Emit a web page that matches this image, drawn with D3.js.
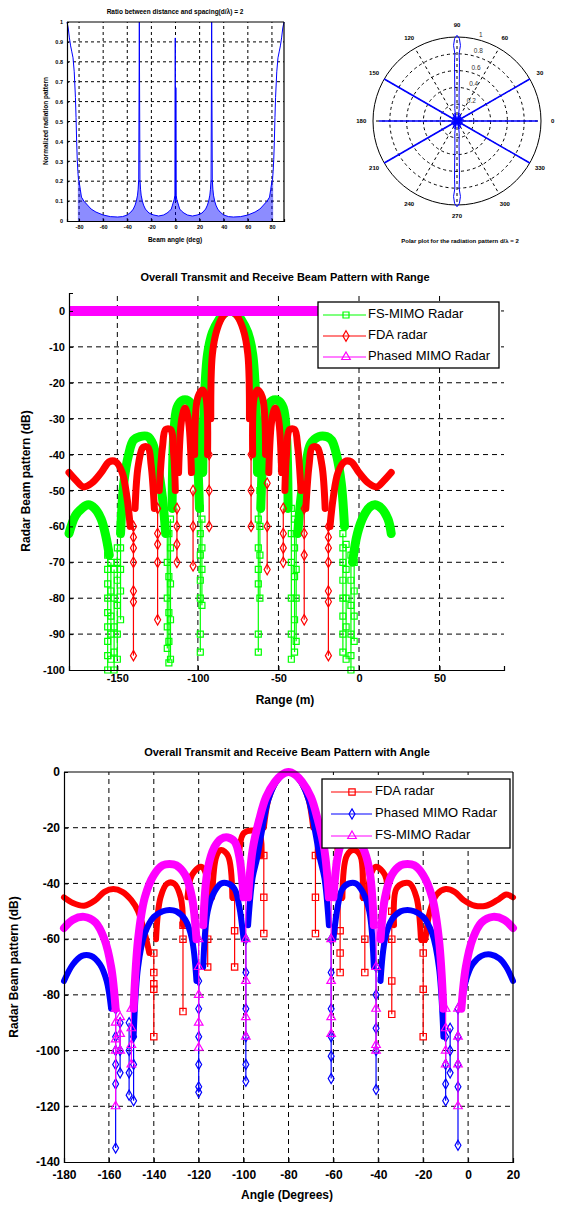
<!DOCTYPE html>
<html><head><meta charset="utf-8">
<script src="https://cdn.jsdelivr.net/npm/d3@7"></script>
<style>body{margin:0;background:#fff}svg{display:block}text{font-family:"Liberation Sans",Arial,sans-serif}</style>
</head><body><svg id="c" width="576" height="1206"></svg>
<script>
// ---------- Panel 1: normalized radiation pattern ----------
const patternAngle = [-90,-89,-88,-87,-86,-85,-84,-83,-82.5,-82,-81.5,-81,-80.5,-80,-79,-78,-76,-73,-70,-66,-60,-54,-48,-44,-40,-37,-35,-33.5,-32.5,-31.5,-31,-30.5,-30,-29.5,-29,-28.5,-27.5,-26.5,-25,-22,-18,-14,-10,-7,-5,-3.5,-2.5,-1.5,-1,-0.5,-0.2,0,0.3,0.6,1,1.5,2.5,3.5,5,7,10,14,18,22,25,26.5,27.5,28.5,29,29.5,30,30.5,31,31.5,32.5,33.5,35,37,40,44,48,54,60,66,70,73,76,78,79,80,80.5,81,81.5,82,82.5,83,84,85,86,87,88,89,90];
const patternLevel = [1.0,0.97,0.92,0.88,0.85,0.82,0.75,0.62,0.52,0.4,0.31,0.25,0.21,0.2,0.16,0.12,0.1,0.08,0.06,0.045,0.03,0.022,0.02,0.022,0.03,0.045,0.06,0.08,0.1,0.13,0.16,0.21,1.0,0.21,0.16,0.13,0.1,0.08,0.06,0.04,0.03,0.025,0.03,0.04,0.05,0.06,0.08,0.1,0.11,0.13,0.92,0.1,0.67,0.13,0.11,0.1,0.08,0.06,0.05,0.04,0.03,0.025,0.03,0.04,0.06,0.08,0.1,0.13,0.16,0.21,1.0,0.21,0.16,0.13,0.1,0.08,0.06,0.045,0.03,0.022,0.02,0.022,0.03,0.045,0.06,0.08,0.1,0.12,0.16,0.2,0.21,0.25,0.31,0.4,0.52,0.62,0.75,0.82,0.85,0.88,0.92,0.97,1.0];
const sidelobeSpan = [-81, 81];
const patternXTicks = [-80,-60,-40,-20,0,20,40,60,80];
const patternYTicks = [0,0.1,0.2,0.3,0.4,0.5,0.6,0.7,0.8,0.9,1];

// ---------- Panel 2: polar plot ----------
const polarSpokeAngle = [0,30,150,180,210,330];
const polarSpokeLevel = [0.96,1.0,1.0,0.93,1.0,1.0];
const polarLobeUp = [[90,0],[70,0.05],[80,0.15],[85.3,0.3],[86.8,0.5],[87.6,0.7],[88.2,0.8],[87.4,0.9],[88.3,0.98],[90,1.02],[91.7,0.98],[92.6,0.9],[91.8,0.8],[92.4,0.7],[93.2,0.5],[94.7,0.3],[100,0.15],[110,0.05],[90,0]];
const polarLobeDown = [[270,0],[250,0.05],[260,0.15],[265.3,0.3],[266.8,0.5],[267.6,0.7],[268.2,0.8],[267.4,0.9],[268.3,0.98],[270,1.02],[271.7,0.98],[272.6,0.9],[271.8,0.8],[272.4,0.7],[273.2,0.5],[274.7,0.3],[280,0.15],[290,0.05],[270,0]];
const polarCoreAngle = [10,20,45,60,75,105,120,135,160,195,225,240,255,285,300,315,345];
const polarCoreLevel = [0.08,0.06,0.07,0.09,0.1,0.1,0.09,0.07,0.06,0.07,0.07,0.09,0.1,0.1,0.09,0.07,0.07];
const polarRings = [0.2,0.4,0.6,0.8];
const polarAngleLabels = [0,30,60,90,120,150,180,210,240,270,300,330];

// ---------- Panel 3: beam pattern vs range ----------
const rangeXTicks = [-150,-100,-50,0,50];
const rangeYTicks = [-100,-90,-80,-70,-60,-50,-40,-30,-20,-10,0];
const fsRangeLobes = [
 [[-180,-62],[-176,-57],[-172,-55],[-168,-54],[-164,-55],[-160,-58],[-157,-63],[-155,-68]],
 [[-148,-62],[-146,-48],[-143,-40],[-140,-36],[-136,-35],[-131,-35],[-128,-37],[-125,-43],[-122,-52],[-120,-62]],
 [[-116,-55],[-115,-35],[-113,-27],[-110,-25],[-106,-25],[-103,-27],[-101,-35],[-99,-55]],
 [[-97,-45],[-96,-25],[-94,-12],[-91,-6],[-87,-2.5],[-84,-0.8],[-80,0],[-76,-0.8],[-73,-2.5],[-69,-6],[-66,-12],[-64,-25],[-63,-45]],
 [[-61,-55],[-59,-35],[-57,-27],[-54,-25],[-50,-25],[-47,-27],[-45,-35],[-44,-55]],
 [[-38,-62],[-36,-52],[-33,-43],[-30,-37],[-25,-35],[-20,-35],[-17,-36],[-14,-40],[-11,-48],[-9,-60]],
 [[-4,-70],[-1,-62],[3,-57],[7,-54.5],[10,-54],[14,-55],[18,-58],[20,-62]]
];
const fsRangeNulls = [
 [-156,[-68,-72,-76,-80,-84,-88,-92,-96,-100]],
 [-154,[-70,-78,-85,-90,-97]],
 [-152,[-72,-80,-88,-95,-100]],
 [-150,[-66,-70,-75,-82,-90,-97]],
 [-148,[-62,-66,-72,-78,-86]],
 [-119,[-62,-70,-80,-88,-94]],
 [-118,[-62,-74,-84,-92,-98]],
 [-117,[-58,-66,-76,-86,-97]],
 [-98.5,[-55,-62,-68,-75,-80,-90,-95]],
 [-97.5,[-58,-66,-72,-82]],
 [-62.5,[-45,-58,-66,-72,-76,-90,-95]],
 [-61.5,[-50,-60,-68,-80]],
 [-42,[-55,-62,-70,-80,-90,-97]],
 [-40,[-58,-66,-74,-86,-95]],
 [-39,[-62,-72,-80,-92]],
 [-10,[-62,-66,-70,-75,-80,-85,-90,-95]],
 [-8,[-65,-72,-80,-88,-97]],
 [-5,[-68,-75,-82,-90,-96,-100]],
 [-3,[-70,-78,-85,-92]]
];
const fdaRangeLobes = [
 [[-180,-45],[-176,-47],[-171,-49],[-166,-48],[-160,-45],[-155,-42],[-151,-42],[-147,-45],[-144,-52],[-142,-60]],
 [[-139,-55],[-137,-43],[-134,-38],[-131,-38],[-129,-43],[-127,-55]],
 [[-124,-50],[-122,-38],[-120,-33],[-117,-33],[-115,-40],[-114,-50]],
 [[-112,-45],[-110,-30],[-108,-27],[-106,-30],[-104,-45]],
 [[-102,-40],[-100,-24],[-97,-22],[-95,-24],[-94,-40]],
 [[-92,-30],[-91,-12],[-88,-5],[-84,-1.2],[-80,0],[-76,-1.2],[-72,-5],[-69,-12],[-68,-30]],
 [[-66,-40],[-65,-24],[-63,-22],[-60,-24],[-58,-40]],
 [[-56,-45],[-54,-30],[-52,-27],[-50,-30],[-48,-45]],
 [[-46,-50],[-45,-40],[-43,-33],[-40,-33],[-38,-38],[-36,-50]],
 [[-33,-55],[-31,-43],[-29,-38],[-26,-38],[-23,-43],[-21,-55]],
 [[-18,-60],[-16,-52],[-13,-45],[-9,-42],[-5,-42],[0,-45],[6,-48],[11,-49],[16,-47],[20,-45]]
];
const fdaRangeNulls = [
 [-140,[-60,-63,-66,-70,-78,-81,-96]],
 [-125,[-55,-62,-65,-70,-86]],
 [-113,[-55,-60,-65,-70]],
 [-103,[-50,-60,-71]],
 [-93,[-40,-50,-60]],
 [-67,[-40,-50,-60]],
 [-57,[-48,-60,-72]],
 [-47,[-55,-62,-66,-70]],
 [-34,[-55,-62,-68,-86]],
 [-19,[-60,-63,-66,-70,-78,-81,-96]]
];
const phasedRangeLine = [[-180,0],[-100,0],[-50,0],[0,0],[20,0]];

// ---------- Panel 4: beam pattern vs angle ----------
const angleXTicks = [-180,-160,-140,-120,-100,-80,-60,-40,-20,0,20];
const angleYTicks = [-140,-120,-100,-80,-60,-40,-20,0];
const fdaAngleLobes = [
 [[-180,-45],[-176,-47],[-171,-48],[-166,-46],[-162,-43],[-158,-42],[-154,-43],[-150,-46],[-147,-50],[-144,-58],[-142,-65]],
 [[-139,-60],[-137,-45],[-134,-40],[-131,-40],[-128,-45],[-127,-55]],
 [[-125,-45],[-123,-37],[-119,-34],[-117,-36],[-116,-45]],
 [[-114,-45],[-112,-30],[-110,-28],[-107,-30],[-105,-45]],
 [[-102,-30],[-100,-22],[-96,-21],[-93,-22],[-92,-30]],
 [[-91,-20],[-89,-10],[-86,-4],[-83,-1],[-80,0],[-77,-1],[-74,-4],[-71,-10],[-69,-20]],
 [[-67,-30],[-66,-22],[-64,-21],[-60,-22],[-58,-30]],
 [[-56,-45],[-54,-30],[-51,-28],[-48,-30],[-47,-45]],
 [[-45,-45],[-43,-36],[-41,-34],[-37,-37],[-36,-45]],
 [[-33,-55],[-32,-42],[-29,-40],[-26,-40],[-23,-45],[-21,-60]],
 [[-19,-60],[-17,-50],[-14,-44],[-10,-42],[-6,-43],[-2,-46],[3,-48],[8,-48],[13,-46],[17,-44],[20,-45]]
];
const fdaAngleNulls = [
 [-140,[-65,-72,-76,-78,-95]],
 [-127,[-55,-60,-86]],
 [-116,[-45,-60,-70]],
 [-104,[-45,-57,-70]],
 [-91,[-30,-45,-58]],
 [-68,[-30,-45,-58]],
 [-57,[-45,-57,-65,-72]],
 [-46,[-45,-60,-72]],
 [-34,[-50,-60,-75,-87]],
 [-20,[-60,-65,-78,-95]]
];
const phasedAngleLobes = [
 [[-180,-75],[-176,-69],[-172,-66],[-168,-66],[-164,-69],[-161,-75],[-159,-85]],
 [[-149,-95],[-147,-70],[-144,-58],[-140,-52],[-136,-50],[-133,-49.5],[-130,-50],[-126,-53],[-123,-60],[-121,-75]],
 [[-118,-70],[-116,-50],[-113,-43],[-110,-40],[-107,-40],[-104,-42],[-102,-48],[-100,-60]],
 [[-98,-55],[-96,-38],[-94,-31],[-92,-22],[-89,-10],[-85,-3],[-80,0],[-75,-3],[-71,-10],[-68,-22],[-66,-31],[-64,-38],[-62,-55]],
 [[-60,-60],[-58,-48],[-56,-42],[-53,-40],[-50,-40],[-47,-43],[-44,-50],[-42,-70]],
 [[-39,-75],[-37,-60],[-34,-53],[-30,-50],[-27,-49.5],[-24,-50],[-20,-52],[-16,-58],[-13,-70],[-11,-95]],
 [[-3,-85],[-1,-75],[2,-69],[6,-66],[10,-65.5],[14,-67],[17,-70],[20,-75]]
];
const phasedAngleNulls = [
 [-157,[-85,-95,-100,-105,-112,-135]],
 [-155,[-90,-100,-108]],
 [-151,[-90,-100,-108,-116]],
 [-149,[-95,-105,-118]],
 [-120,[-75,-85,-95,-105,-113,-115]],
 [-99,[-60,-72,-85,-95,-105,-111]],
 [-61,[-60,-72,-85,-95,-102,-110]],
 [-41,[-70,-80,-92,-100,-114]],
 [-10,[-95,-105,-112,-118]],
 [-8,[-92,-100,-108]],
 [-4.5,[-85,-95,-105,-113,-134]]
];
const fsAngleLobes = [
 [[-180,-56],[-176,-53],[-171,-52],[-166,-54],[-162,-60],[-159,-70],[-157,-85]],
 [[-149,-85],[-147,-60],[-144,-45],[-140,-37],[-136,-33.5],[-133,-33],[-130,-33.5],[-126,-37],[-123,-45],[-121,-60]],
 [[-118,-55],[-116,-35],[-113,-27],[-110,-24],[-107,-23.5],[-104,-25],[-102,-30],[-100,-45]],
 [[-98,-45],[-96,-28],[-93,-17],[-90,-9],[-86,-3.5],[-83,-1],[-80,0],[-77,-1],[-74,-3.5],[-70,-9],[-67,-17],[-64,-28],[-62,-45]],
 [[-60,-45],[-58,-30],[-56,-25],[-53,-23.5],[-50,-24],[-47,-27],[-44,-35],[-42,-55]],
 [[-39,-60],[-37,-45],[-34,-37],[-30,-33.5],[-27,-33],[-24,-33.5],[-20,-37],[-16,-45],[-13,-60],[-11,-85]],
 [[-3,-85],[-1,-70],[2,-60],[6,-54],[11,-52],[16,-53],[20,-56]]
];
const fsAngleNulls = [
 [-157,[-85,-90,-96,-100,-120]],
 [-155,[-88,-94,-100]],
 [-150,[-85,-92,-98,-105]],
 [-120,[-60,-70,-80,-90,-99]],
 [-99,[-45,-60,-75,-88,-95]],
 [-61,[-45,-60,-75,-88,-94]],
 [-41,[-55,-70,-85,-98,-100]],
 [-10,[-85,-92,-100,-105]],
 [-4.5,[-85,-95,-105,-120]]
];

// ================= drawing =================
const svg = d3.select('#c');
const BOLD = "bold";

function grid(g, x, y, xt, yt, dash) {
  const [x0, x1] = x.range(), [y0, y1] = y.range();
  g.selectAll(null).data(xt).enter().append('line')
    .attr('x1', d => x(d)).attr('x2', d => x(d)).attr('y1', y0).attr('y2', y1)
    .attr('stroke', '#000').attr('stroke-width', 1).attr('stroke-dasharray', dash);
  g.selectAll(null).data(yt).enter().append('line')
    .attr('y1', d => y(d)).attr('y2', d => y(d)).attr('x1', x0).attr('x2', x1)
    .attr('stroke', '#000').attr('stroke-width', 1).attr('stroke-dasharray', dash);
}
function axes(g, x, y, xt, yt, fs, tick, full, fmtY, padX) {
  const [x0, x1] = x.range(), [y0, y1] = y.range();
  const ax = g.append('g').attr('transform', `translate(0,${y0})`)
    .call(d3.axisBottom(x).tickValues(xt).tickSize(-tick).tickPadding(padX || 4).tickFormat(d => String(d)));
  const ay = g.append('g').attr('transform', `translate(${x0},0)`)
    .call(d3.axisLeft(y).tickValues(yt).tickSize(-tick).tickPadding(4).tickFormat(fmtY || (d => String(d))));
  [ax, ay].forEach(a => {
    a.select('.domain').attr('stroke', '#000').attr('stroke-width', 1.2);
    a.selectAll('.tick line').attr('stroke', '#000');
    a.selectAll('text').attr('font-size', fs).attr('font-weight', BOLD).attr('fill', '#000')
      .attr('font-family', '"Liberation Sans",Arial,sans-serif');
  });
  if (full) {
    g.append('line').attr('x1', x0).attr('x2', x1).attr('y1', y1).attr('y2', y1).attr('stroke', '#000').attr('stroke-width', 1.2);
    g.append('line').attr('x1', x1).attr('x2', x1).attr('y1', y0).attr('y2', y1).attr('stroke', '#000').attr('stroke-width', 1.2);
  }
  return [ax, ay];
}
function label(g, txt, x, y, fs, rot, weight) {
  const t = g.append('text').attr('x', x).attr('y', y).attr('text-anchor', 'middle')
    .attr('dominant-baseline', 'middle').attr('font-size', fs).attr('font-weight', weight || BOLD).text(txt);
  if (rot) t.attr('transform', `rotate(${rot},${x},${y})`);
  return t;
}
function drawSeries(g, x, y, lobes, nulls, color, width, symbol, msize) {
  const line = d3.line().x(d => x(d[0])).y(d => y(d[1])).curve(d3.curveCatmullRom.alpha(0.5));
  g.selectAll(null).data(lobes).enter().append('path').attr('d', line)
    .attr('fill', 'none').attr('stroke', color).attr('stroke-width', width)
    .attr('stroke-linejoin', 'round').attr('stroke-linecap', 'round');
  const sym = d3.symbol().type(symbol).size(msize);
  nulls.forEach(n => {
    const xs = x(n[0]);
    g.append('line').attr('x1', xs).attr('x2', xs)
      .attr('y1', y(d3.max(n[1]))).attr('y2', y(d3.min(n[1])))
      .attr('stroke', color).attr('stroke-width', 1.2);
    g.selectAll(null).data(n[1]).enter().append('path').attr('d', sym)
      .attr('transform', d => `translate(${xs},${y(d)})`)
      .attr('fill', 'none').attr('stroke', color).attr('stroke-width', 1.2);
  });
}

// ---- Panel 1 ----
{
  const g = svg.append('g');
  const x = d3.scaleLinear().domain([-90, 90]).range([67, 284]);
  const y = d3.scaleLinear().domain([0, 1]).range([221, 22]);
  grid(g, x, y, patternXTicks, patternYTicks.slice(1, -1), '3,3');
  const pts = patternAngle.map((a, i) => [a, patternLevel[i]]);
  const fillPts = pts.filter(d => d[0] >= sidelobeSpan[0] && d[0] <= sidelobeSpan[1]);
  g.append('path').datum(fillPts)
    .attr('d', d3.area().x(d => x(d[0])).y0(y(0)).y1(d => y(Math.min(d[1], 0.21))))
    .attr('fill', '#0000ff').attr('opacity', 0.45);
  g.append('path').datum(pts)
    .attr('d', d3.line().x(d => x(d[0])).y(d => y(d[1])))
    .attr('fill', 'none').attr('stroke', '#0000ff').attr('stroke-width', 1);
  axes(g, x, y, patternXTicks, patternYTicks, 5.5, 2, true, d => d === 0 ? '0' : d === 1 ? '1' : d3.format('.1f')(d));
  label(g, 'Ratio between distance and spacing(d/λ) = 2', 175, 12, 6.5);
  label(g, 'Beam angle (deg)', 175, 240, 6.5);
  label(g, 'Normalized radiation pattern', 46, 121, 6.5, -90);
}

// ---- Panel 2 ----
{
  const cx = 457, cy = 121, R = 84;
  const g = svg.append('g').attr('transform', `translate(${cx},${cy})`);
  const r = d3.scaleLinear().domain([0, 1]).range([0, R]);
  const P = (deg, v) => [r(v) * Math.cos(deg * Math.PI / 180), -r(v) * Math.sin(deg * Math.PI / 180)];
  g.selectAll(null).data(polarRings).enter().append('circle').attr('r', d => r(d))
    .attr('fill', 'none').attr('stroke', '#000').attr('stroke-dasharray', '3,3');
  g.append('circle').attr('r', R).attr('fill', 'none').attr('stroke', '#000').attr('stroke-width', 1);
  g.selectAll(null).data(polarAngleLabels).enter().append('line')
    .attr('x1', 0).attr('y1', 0).attr('x2', d => P(d, 1)[0]).attr('y2', d => P(d, 1)[1])
    .attr('stroke', '#000').attr('stroke-dasharray', '3,3');
  g.selectAll(null).data(polarAngleLabels).enter().append('text')
    .attr('x', d => P(d, 1.14)[0]).attr('y', d => P(d, 1.14)[1])
    .attr('text-anchor', 'middle').attr('dominant-baseline', 'middle')
    .attr('font-size', 6).attr('font-weight', 'bold').text(d => d);
  g.selectAll(null).data(polarRings.concat([1])).enter().append('text')
    .attr('x', d => P(82, d)[0] + 12).attr('y', d => P(82, d)[1] - 3)
    .attr('text-anchor', 'middle').attr('dominant-baseline', 'middle')
    .attr('font-size', 6.5).attr('fill', '#333').text(d => d);
  g.selectAll(null).data(polarSpokeAngle).enter().append('line')
    .attr('x1', 0).attr('y1', 0)
    .attr('x2', (d, i) => P(d, polarSpokeLevel[i])[0]).attr('y2', (d, i) => P(d, polarSpokeLevel[i])[1])
    .attr('stroke', '#0000ff').attr('stroke-width', 1.6);
  const pl = d3.line().x(d => P(d[0], d[1])[0]).y(d => P(d[0], d[1])[1]);
  [polarLobeUp, polarLobeDown].forEach(lb => g.append('path').attr('d', pl(lb))
    .attr('fill', 'none').attr('stroke', '#0000ff').attr('stroke-width', 1));
  g.selectAll(null).data(polarCoreAngle).enter().append('line')
    .attr('x1', 0).attr('y1', 0)
    .attr('x2', (d, i) => P(d, polarCoreLevel[i])[0]).attr('y2', (d, i) => P(d, polarCoreLevel[i])[1])
    .attr('stroke', '#0000ff').attr('stroke-width', 1.5);
  label(svg, 'Polar plot for the radiation pattern d/λ = 2', 460, 241, 6);
}

// ---- Panel 3 ----
{
  const g = svg.append('g');
  const x = d3.scaleLinear().domain([-180, 90]).range([69, 504]);
  const y = d3.scaleLinear().domain([-100, 5]).range([670, 293]);
  grid(g, x, y, rangeXTicks, rangeYTicks.slice(1), '5,4');
  drawSeries(g, x, y, fsRangeLobes, fsRangeNulls, '#00ff00', 9, d3.symbolSquare, 36);
  drawSeries(g, x, y, fdaRangeLobes, fdaRangeNulls, '#ff0000', 7, d3.symbolDiamond, 32);
  g.append('path').datum(phasedRangeLine)
    .attr('d', d3.line().x(d => x(d[0])).y(d => y(d[1])))
    .attr('stroke', '#ff00ff').attr('stroke-width', 10).attr('fill', 'none');
  axes(g, x, y, rangeXTicks, rangeYTicks, 11, 4, false);
  label(g, 'Overall Transmit and Receive Beam Pattern with Range', 285, 278, 11);
  label(g, 'Range (m)', 285, 701, 12);
  label(g, 'Radar Beam pattern (dB)', 27, 481, 12, -90);
  const lg = g.append('g');
  lg.append('rect').attr('x', 318).attr('y', 302).attr('width', 181).attr('height', 66)
    .attr('fill', '#fff').attr('stroke', '#000').attr('stroke-width', 1.3);
  const items = [['FS-MIMO Radar', '#00ff00', d3.symbolSquare, 36], ['FDA radar', '#ff0000', d3.symbolDiamond, 32], ['Phased MIMO Radar', '#ff00ff', d3.symbolTriangle, 32]];
  items.forEach((it, i) => {
    const yy = 315 + i * 21;
    lg.append('line').attr('x1', 323).attr('x2', 366).attr('y1', yy).attr('y2', yy).attr('stroke', it[1]).attr('stroke-width', 1.2);
    lg.append('path').attr('d', d3.symbol().type(it[2]).size(it[3])()).attr('transform', `translate(346,${yy})`)
      .attr('fill', 'none').attr('stroke', it[1]).attr('stroke-width', 1.2);
    lg.append('text').attr('x', 368).attr('y', yy).attr('dominant-baseline', 'middle')
      .attr('font-size', 13).text(it[0]);
  });
}

// ---- Panel 4 ----
{
  const g = svg.append('g');
  const x = d3.scaleLinear().domain([-180, 20]).range([64, 513]);
  const y = d3.scaleLinear().domain([-140, 0]).range([1162, 772]);
  grid(g, x, y, angleXTicks.slice(1, -1), angleYTicks.slice(1, -1), '5,4');
  drawSeries(g, x, y, fdaAngleLobes, fdaAngleNulls, '#ff0000', 6, d3.symbolSquare, 40);
  drawSeries(g, x, y, phasedAngleLobes, phasedAngleNulls, '#0000ff', 6, d3.symbolDiamond, 30);
  drawSeries(g, x, y, fsAngleLobes, fsAngleNulls, '#ff00ff', 8, d3.symbolTriangle, 32);
  axes(g, x, y, angleXTicks, angleYTicks, 12, 4, true, null, 8);
  label(g, 'Overall Transmit and Receive Beam Pattern with Angle', 287, 753, 11);
  label(g, 'Angle (Degrees)', 287, 1196, 12);
  label(g, 'Radar Beam pattern (dB)', 15, 967, 12, -90);
  const lg = g.append('g');
  lg.append('rect').attr('x', 322).attr('y', 779).attr('width', 188).attr('height', 69)
    .attr('fill', '#fff').attr('stroke', '#000').attr('stroke-width', 1.3);
  const items = [['FDA radar', '#ff0000', d3.symbolSquare, 40], ['Phased MIMO Radar', '#0000ff', d3.symbolDiamond, 30], ['FS-MIMO Radar', '#ff00ff', d3.symbolTriangle, 32]];
  items.forEach((it, i) => {
    const yy = 792 + i * 22;
    lg.append('line').attr('x1', 331).attr('x2', 372).attr('y1', yy).attr('y2', yy).attr('stroke', it[1]).attr('stroke-width', 1.2);
    lg.append('path').attr('d', d3.symbol().type(it[2]).size(it[3])()).attr('transform', `translate(352,${yy})`)
      .attr('fill', 'none').attr('stroke', it[1]).attr('stroke-width', 1.2);
    lg.append('text').attr('x', 375).attr('y', yy).attr('dominant-baseline', 'middle')
      .attr('font-size', 13).text(it[0]);
  });
}
</script></body></html>
